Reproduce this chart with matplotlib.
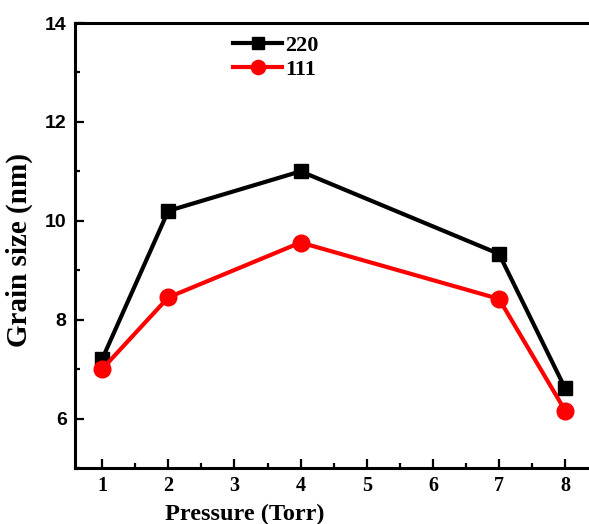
import numpy as np
import matplotlib.pyplot as plt
from matplotlib.ticker import MultipleLocator

# data
pressure = [1, 2, 4, 7, 8]
size_220 = [7.2, 10.2, 11.0, 9.33, 6.61]
size_111 = [7.0, 8.45, 9.56, 8.42, 6.16]
series_labels = ['220', '111']

serif = 'Liberation Serif'
sans = 'Liberation Sans'

fig = plt.figure(figsize=(5.89, 5.24), dpi=100)
ax = fig.add_axes([75 / 589, 56 / 524, 514 / 589, 445 / 524])

ax.plot(pressure, size_220, color='black', lw=3, marker='s', ms=10.5,
        label=series_labels[0])
ax.plot(pressure, size_111, color='red', lw=3, marker='o', ms=12,
        label=series_labels[1])

ax.set_xlim(0.59, 8.36)
ax.set_ylim(5, 14)
ax.xaxis.set_major_locator(MultipleLocator(1))
ax.xaxis.set_minor_locator(MultipleLocator(0.5))
ax.yaxis.set_minor_locator(MultipleLocator(1))
ax.set_yticks([6, 8, 10, 12, 14])

# spines: left, bottom, top only (right edge is cut off)
for side in ['left', 'bottom', 'top']:
    ax.spines[side].set_linewidth(2.2)
ax.spines['right'].set_visible(False)

ax.tick_params(which='both', direction='in', width=1.6, top=False, right=False)
ax.tick_params(which='major', length=6.5)
ax.tick_params(axis='x', which='major', pad=6)
ax.tick_params(axis='y', which='major', pad=6)
ax.tick_params(which='minor', length=3.5)

for lbl in ax.get_xticklabels():
    lbl.set_fontfamily(serif)
    lbl.set_fontweight('bold')
    lbl.set_fontsize(14.5)
for lbl in ax.get_yticklabels():
    lbl.set_fontfamily(sans)
    lbl.set_fontweight('bold')
    lbl.set_fontsize(14)

ax.set_xlabel('Pressure (Torr)', fontfamily=serif, fontweight='bold',
              fontsize=17.5)
ax.xaxis.set_label_coords(170 / 514, -36 / 445)
ax.set_ylabel('Grain size (nm)', fontfamily=serif, fontweight='bold',
              fontsize=21)
ax.yaxis.set_label_coords(-42 / 514, 0.49)

leg = ax.legend(loc='upper left', bbox_to_anchor=(222 / 589, 1 - 24 / 524),
                bbox_transform=fig.transFigure, frameon=False,
                prop={'family': serif, 'weight': 'bold', 'size': 16},
                handlelength=2.2, handletextpad=0.15, labelspacing=0.15,
                borderpad=0, markerscale=0.85)

fig.savefig('out.png', dpi=100)
